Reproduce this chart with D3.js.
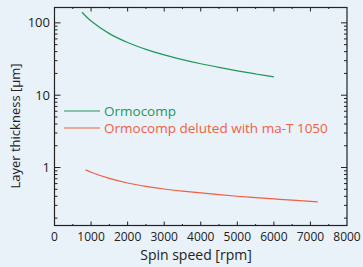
<!DOCTYPE html>
<html>
<head>
<meta charset="utf-8">
<script src="https://cdn.jsdelivr.net/npm/d3@7"></script>
<style>
  html, body { margin: 0; padding: 0; background: #e9f1f9; }
  svg { display: block; font-family: "Open Sans", sans-serif; }
</style>
</head>
<body>
<svg id="chart" width="363" height="267"></svg>
<script>
// Data
var xTicks = [0, 1000, 2000, 3000, 4000, 5000, 6000, 7000, 8000];
var yTicks = [1, 10, 100];

var ormoSpeed = [750, 1000, 1500, 2000, 2500, 3000, 3500, 4000, 4500, 5000, 5500, 6000];
var ormoThick = [140, 106, 71, 53.5, 43, 36, 31, 27.2, 24.2, 21.7, 19.65, 17.9];

var dilSpeed = [850, 1000, 1500, 2000, 2500, 3000, 3500, 4000, 4500, 5000, 5500, 6000, 6500, 7200];
var dilThick = [0.93, 0.86, 0.708, 0.611, 0.549, 0.505, 0.472, 0.445, 0.422, 0.401, 0.384, 0.368, 0.354, 0.336];

var seriesNames = ['Ormocomp', 'Ormocomp deluted with ma-T 1050'];
var seriesColors = ['#23975a', '#f15f3f'];

var svg = d3.select('#chart');

// Plot frame (window.top is reserved, so use a small object)
var frame = { l: 54.5, r: 347, t: 7.5, b: 225.5 };

var x = d3.scaleLinear().domain([0, 8000]).range([frame.l, frame.r]);
var y = d3.scaleLog().domain([0.158, 163]).range([frame.b, frame.t]);

// Minor ticks for the log axis
var minor = [];
[0.1, 1, 10, 100].forEach(function (d) {
    for (var k = 2; k <= 9; k++) {
        var v = d * k;
        if (v >= y.domain()[0] && v <= y.domain()[1]) minor.push(v);
    }
});
var xMinor = d3.range(500, 8000, 1000);

// Frame
svg.append('rect')
    .attr('x', frame.l).attr('y', frame.t)
    .attr('width', frame.r - frame.l).attr('height', frame.b - frame.t)
    .attr('fill', 'none').attr('stroke', '#222').attr('stroke-width', 1.2);

var ticks = svg.append('g').attr('stroke', '#222').attr('stroke-width', 1);

// Left and right axis ticks (inward)
[[frame.l, 1], [frame.r, -1]].forEach(function (s) {
    ticks.selectAll(null).data(yTicks).enter().append('line')
        .attr('x1', s[0]).attr('x2', s[0] + s[1] * 6)
        .attr('y1', function (d) { return y(d); })
        .attr('y2', function (d) { return y(d); });
    ticks.selectAll(null).data(minor).enter().append('line')
        .attr('x1', s[0]).attr('x2', s[0] + s[1] * 3)
        .attr('y1', function (d) { return y(d); })
        .attr('y2', function (d) { return y(d); });
});

// Top and bottom axis ticks (inward)
[[frame.t, 1], [frame.b, -1]].forEach(function (s) {
    ticks.selectAll(null).data(xTicks.slice(1, -1)).enter().append('line')
        .attr('y1', s[0]).attr('y2', s[0] + s[1] * 4)
        .attr('x1', function (d) { return x(d); })
        .attr('x2', function (d) { return x(d); });
    ticks.selectAll(null).data(xMinor).enter().append('line')
        .attr('y1', s[0]).attr('y2', s[0] + s[1] * 1.5)
        .attr('x1', function (d) { return x(d); })
        .attr('x2', function (d) { return x(d); });
});

// Tick labels
svg.append('g').selectAll('text').data(xTicks).enter().append('text')
    .attr('x', function (d) { return x(d); })
    .attr('y', 241)
    .attr('text-anchor', 'middle')
    .attr('font-size', 12)
    .attr('fill', '#222')
    .text(function (d) { return d; });

svg.append('g').selectAll('text').data(yTicks).enter().append('text')
    .attr('x', 50)
    .attr('y', function (d) { return y(d) + 4.5; })
    .attr('text-anchor', 'end')
    .attr('font-size', 13)
    .attr('fill', '#222')
    .text(function (d) { return d; });

// Axis titles
svg.append('text')
    .attr('x', 196).attr('y', 260)
    .attr('text-anchor', 'middle')
    .attr('font-size', 14)
    .attr('fill', '#222')
    .text('Spin speed [rpm]');

svg.append('text')
    .attr('transform', 'translate(20,126) rotate(-90)')
    .attr('text-anchor', 'middle')
    .attr('font-size', 13)
    .attr('fill', '#222')
    .text('Layer thickness [µm]');

// Curves
var line = d3.line()
    .x(function (d) { return x(d[0]); })
    .y(function (d) { return y(d[1]); })
    .curve(d3.curveCatmullRom);

var series = [d3.zip(ormoSpeed, ormoThick), d3.zip(dilSpeed, dilThick)];

svg.append('g').selectAll('path').data(series).enter().append('path')
    .attr('d', line)
    .attr('fill', 'none')
    .attr('stroke', function (d, i) { return seriesColors[i]; })
    .attr('stroke-width', 1.2);

// Legend
var legendY = [111, 128];
var legend = svg.append('g').selectAll('g').data(seriesNames).enter().append('g');
legend.append('line')
    .attr('x1', 64).attr('x2', 100)
    .attr('y1', function (d, i) { return legendY[i]; })
    .attr('y2', function (d, i) { return legendY[i]; })
    .attr('stroke', function (d, i) { return seriesColors[i]; })
    .attr('stroke-width', 1.2);
legend.append('text')
    .attr('x', 104)
    .attr('y', function (d, i) { return legendY[i] + 5; })
    .attr('font-size', 13.5)
    .attr('fill', function (d, i) { return seriesColors[i]; })
    .text(function (d) { return d; });
</script>
</body>
</html>
